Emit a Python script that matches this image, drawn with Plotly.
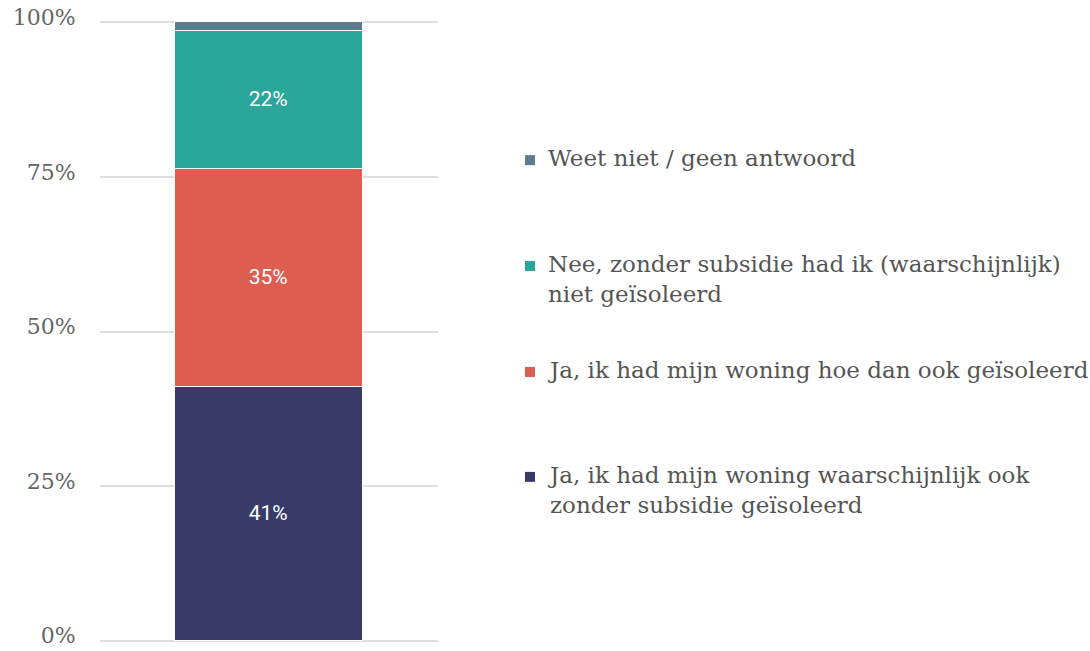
import plotly.graph_objects as go

# Data (bottom to top of stack)
categories = [
    "Ja, ik had mijn woning waarschijnlijk ook<br>zonder subsidie geïsoleerd",
    "Ja, ik had mijn woning hoe dan ook geïsoleerd",
    "Nee, zonder subsidie had ik (waarschijnlijk)<br>niet geïsoleerd",
    "Weet niet / geen antwoord",
]
values = [41.1, 35.1, 22.4, 1.4]
labels = ["41%", "35%", "22%", ""]
colors = ["#373b66", "#dd5d51", "#2aa69b", "#5d7a8f"]
tick_vals = [0, 25, 50, 75, 100]
tick_text = ["0%", "25%", "50%", "75%", "100%"]

W, H = 1090, 651
PAD = 0.2
PX_PER_UNIT = 6.19
L, R = 100, 652
T = 22 - PAD * PX_PER_UNIT
B = H - 641 - PAD * PX_PER_UNIT
plot_w = W - L - R
plot_h = H - T - B

fig = go.Figure()
for name, v, lab, c in zip(categories, values, labels, colors):
    fig.add_trace(go.Bar(
        x=[""], y=[v], name=name, marker=dict(color=c, line=dict(color="white", width=1.5)),
        text=[lab], textposition="inside", insidetextanchor="middle",
        textfont=dict(family="Roboto", size=21, color="white"),
        width=0.555, showlegend=False, hoverinfo="name+y",
    ))

# legend built from categories/colors (layout only)
legend_y_px = [490, 370, 279, 158]
def px_to_paper(px, py):
    return (px - L) / plot_w, (H - B - py) / plot_h

annotations = []
shapes = []
for name, c, ypx in zip(categories, colors, legend_y_px):
    nlines = name.count("<br>") + 1
    first_line_center = ypx - (nlines - 1) * 15
    xp, yp = px_to_paper(546, ypx)
    annotations.append(dict(
        x=xp, y=yp, xref="paper", yref="paper", text=name, showarrow=False,
        xanchor="left", yanchor="middle", align="left",
        font=dict(family="DejaVu Serif", size=23, color="#555555"),
    ))
    x0, y0 = px_to_paper(525, first_line_center + 7)
    x1, y1 = px_to_paper(535, first_line_center - 3)
    shapes.append(dict(type="rect", xref="paper", yref="paper", x0=x0, y0=y0, x1=x1, y1=y1,
                       fillcolor=c, line=dict(width=0)))

fig.update_layout(
    barmode="stack",
    width=W, height=H,
    margin=dict(l=L, r=R, t=T, b=B, autoexpand=False),
    paper_bgcolor="white", plot_bgcolor="white",
    showlegend=False,
    bargap=0,
    annotations=annotations,
    shapes=shapes,
    xaxis=dict(range=[-0.5, 0.5], showticklabels=False, showgrid=False, zeroline=False, fixedrange=True),
    yaxis=dict(
        range=[-PAD, 100 + PAD], tickvals=tick_vals, ticktext=tick_text,
        showgrid=True, gridcolor="#dedede", gridwidth=2, zeroline=False,
        ticks="outside", ticklen=19, tickcolor="rgba(0,0,0,0)",
        tickfont=dict(family="DejaVu Serif", size=22, color="#666666"),
        automargin=False, ticklabeloverflow="allow", ticklabelshift=-5,
    ),
)

fig.write_html("out.html", config={"displayModeBar": False},
               post_script="document.body.style.margin='0';document.body.style.overflow='hidden';")
